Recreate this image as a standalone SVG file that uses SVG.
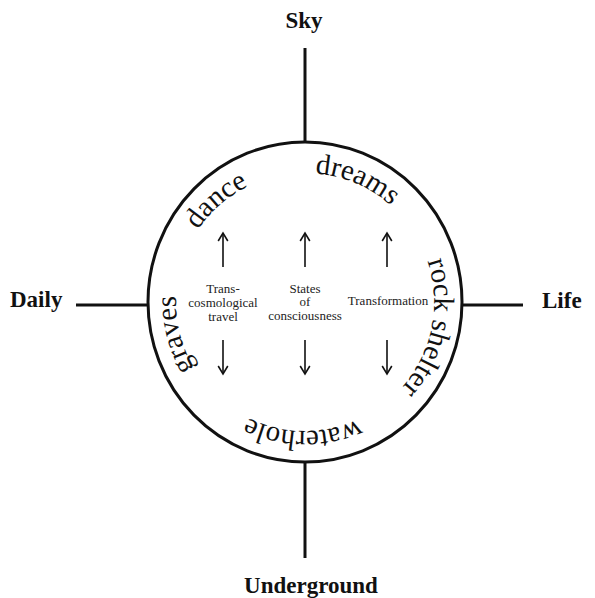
<svg xmlns="http://www.w3.org/2000/svg" xmlns:xlink="http://www.w3.org/1999/xlink" width="595" height="598" viewBox="0 0 595 598">
  <style>
    .axis { stroke: #111; stroke-width: 3; fill: none; }
    .arrow { stroke: #111; stroke-width: 1.6; fill: none; marker-end: url(#head); }
    .pole { font-family: "Liberation Serif", "Times New Roman", serif; font-weight: bold; font-size: 23px; fill: #111; }
    .arc { font-family: "Liberation Serif", "Times New Roman", serif; font-size: 29px; fill: #111; }
    .inner { font-family: "Liberation Serif", "Times New Roman", serif; font-size: 13px; fill: #222; text-anchor: middle; }
  </style>
  <defs>
    <marker id="head" markerUnits="userSpaceOnUse" markerWidth="20" markerHeight="20" refX="0" refY="0" orient="auto" overflow="visible">
      <path d="M -8 -4.8 L 0 0 L -8 4.8" stroke="#111" stroke-width="1.6" fill="none"/>
    </marker>
    <path id="ring" d="M 305 173 A 129 129 0 1 1 305 431 A 129 129 0 1 1 305 173"/>
  </defs>
  <rect width="595" height="598" fill="#fff"/>

  <g id="connectors">
    <line class="axis" x1="305" y1="48" x2="305" y2="142"/>
    <line class="axis" x1="305" y1="462" x2="305" y2="558"/>
    <line class="axis" x1="76" y1="305" x2="148" y2="305"/>
    <line class="axis" x1="462" y1="305" x2="523" y2="305"/>
    <line class="arrow" x1="223" y1="267" x2="223" y2="233"/>
    <line class="arrow" x1="305" y1="267" x2="305" y2="233"/>
    <line class="arrow" x1="387" y1="267" x2="387" y2="233"/>
    <line class="arrow" x1="223" y1="340" x2="223" y2="374"/>
    <line class="arrow" x1="305" y1="340" x2="305" y2="374"/>
    <line class="arrow" x1="387" y1="340" x2="387" y2="374"/>
  </g>

  <g id="circle">
    <ellipse cx="305" cy="302" rx="157" ry="160" class="axis"/>
    <text class="arc" text-anchor="middle"><textPath href="#ring" xlink:href="#ring" startOffset="52">dreams</textPath></text>
    <text class="arc" text-anchor="middle"><textPath href="#ring" xlink:href="#ring" startOffset="229">rock shelter</textPath></text>
    <text class="arc" text-anchor="middle"><textPath href="#ring" xlink:href="#ring" startOffset="407">waterhole</textPath></text>
    <text class="arc" text-anchor="middle"><textPath href="#ring" xlink:href="#ring" startOffset="576">graves</textPath></text>
    <text class="arc" text-anchor="middle"><textPath href="#ring" xlink:href="#ring" startOffset="718">dance</textPath></text>
  </g>

  <g id="sky"><text class="pole" x="304" y="28" text-anchor="middle">Sky</text></g>
  <g id="underground"><text class="pole" x="311" y="593" text-anchor="middle">Underground</text></g>
  <g id="daily"><text class="pole" x="10" y="307" font-size="25">Daily</text></g>
  <g id="life"><text class="pole" x="542" y="308">Life</text></g>

  <g id="trans-cosmological">
    <text class="inner" x="223" y="293">Trans-</text>
    <text class="inner" x="223" y="307">cosmological</text>
    <text class="inner" x="223" y="321">travel</text>
  </g>
  <g id="states">
    <text class="inner" x="305" y="293">States</text>
    <text class="inner" x="305" y="306">of</text>
    <text class="inner" x="305" y="320">consciousness</text>
  </g>
  <g id="transformation">
    <text class="inner" x="388" y="305">Transformation</text>
  </g>
</svg>
